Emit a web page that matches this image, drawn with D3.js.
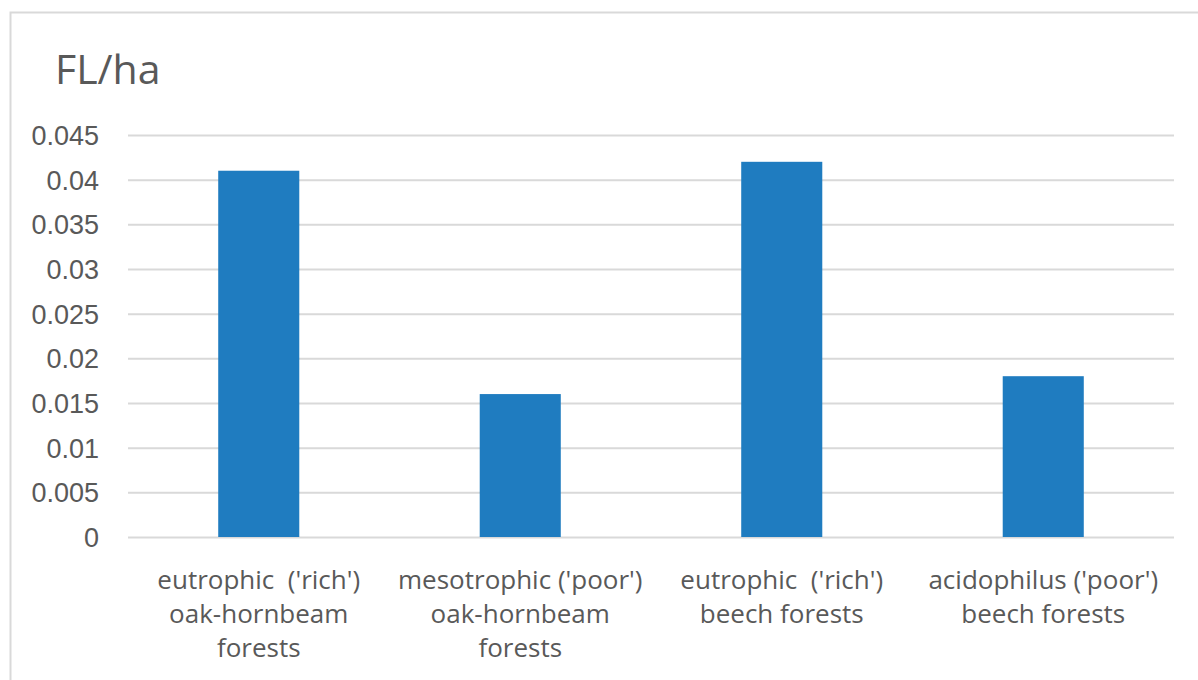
<!DOCTYPE html>
<html>
<head>
<meta charset="utf-8">
<script src="https://cdn.jsdelivr.net/npm/d3@7"></script>
<style>
  body { margin: 0; background: #fff; }
  svg { display: block; font-family: "Open Sans", "Noto Sans", sans-serif; }
  .xlab { white-space: pre; }
</style>
</head>
<body>
<svg width="1198" height="680"></svg>
<script>
// 카테고리와 값
var categories = [
  ["eutrophic  ('rich')", "oak-hornbeam", "forests"],
  ["mesotrophic ('poor')", "oak-hornbeam", "forests"],
  ["eutrophic  ('rich')", "beech forests"],
  ["acidophilus ('poor')", "beech forests"]
];
var values = [0.041, 0.016, 0.042, 0.018];
var yTicks = [0, 0.005, 0.01, 0.015, 0.02, 0.025, 0.03, 0.035, 0.04, 0.045];
var yTickLabels = ["0", "0.005", "0.01", "0.015", "0.02", "0.025", "0.03", "0.035", "0.04", "0.045"];

// 그래프 영역 (window.top 과 겹치지 않게 이름 변경)
var plotLeft = 128, plotRight = 1174, plotTop = 135, plotBottom = 537;

var svg = d3.select("svg");

// 바깥 테두리
svg.append("rect")
    .attr("x", 10.5)
    .attr("y", 12.5)
    .attr("width", 1300)
    .attr("height", 800)
    .attr("fill", "none")
    .attr("stroke", "#d9d9d9")
    .attr("stroke-width", 2);

var xScale = d3.scaleBand()
    .domain(d3.range(categories.length))
    .range([plotLeft, plotRight])
    .paddingInner(0.69)
    .paddingOuter(0.345);

var yScale = d3.scaleLinear()
    .domain([0, 0.045])
    .range([plotBottom, plotTop]);

// 가로 눈금선 + y축 라벨
var yAxis = d3.axisLeft(yScale)
    .tickValues(yTicks)
    .tickFormat((d, i) => yTickLabels[i])
    .tickSize(-(plotRight - plotLeft))
    .tickPadding(29);

svg.append("g")
    .attr("transform", "translate(" + plotLeft + ",0)")
    .call(yAxis)
    .call(g => g.select(".domain").remove())
    .call(g => g.selectAll("line").attr("stroke", "#d9d9d9").attr("stroke-width", 2))
    .call(g => g.selectAll("text")
        .attr("fill", "#595959")
        .style("font-size", "27px")
        .attr("dy", "0.35em"));

// 막대
svg.append("g")
    .selectAll("rect")
    .data(values)
    .enter()
    .append("rect")
        .attr("x", (d, i) => xScale(i))
        .attr("y", d => yScale(d))
        .attr("width", xScale.bandwidth())
        .attr("height", d => yScale(0) - yScale(d))
        .attr("fill", "#1f7cc0");

// x축 라벨 (여러 줄)
var labels = svg.append("g")
    .selectAll("text")
    .data(categories)
    .enter()
    .append("text")
        .attr("class", "xlab")
        .attr("x", (d, i) => xScale(i) + xScale.bandwidth() / 2)
        .attr("y", 589)
        .attr("text-anchor", "middle")
        .attr("fill", "#595959")
        .style("font-size", "26px");

labels.selectAll("tspan")
    .data(d => d)
    .enter()
    .append("tspan")
        .attr("x", function () { return d3.select(this.parentNode).attr("x"); })
        .attr("dy", (d, i) => i === 0 ? 0 : 34)
        .text(d => d);

// 제목
svg.append("text")
    .attr("x", 55)
    .attr("y", 84)
    .attr("fill", "#595959")
    .style("font-size", "41px")
    .text("FL/ha");
</script>
</body>
</html>
